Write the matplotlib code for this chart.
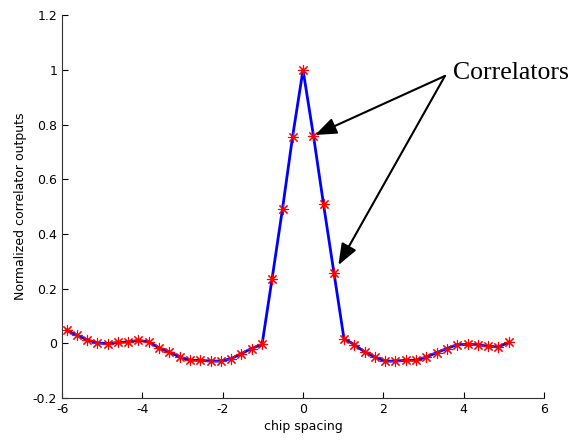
import matplotlib.pyplot as plt

# chip offsets (1/4-ish chip steps) and normalized correlator outputs
chip = [-5.89, -5.63, -5.38, -5.12, -4.86, -4.61, -4.35, -4.10, -3.84, -3.58,
        -3.33, -3.07, -2.82, -2.56, -2.30, -2.05, -1.79, -1.54, -1.28, -1.02,
        -0.77, -0.51, -0.26, 0.0, 0.26, 0.51, 0.77, 1.02, 1.28, 1.54,
        1.79, 2.05, 2.30, 2.56, 2.82, 3.07, 3.33, 3.58, 3.84, 4.10,
        4.35, 4.61, 4.86, 5.12]
corr = [0.048, 0.029, 0.013, 0.001, -0.001, 0.003, 0.005, 0.011, 0.005, -0.017,
        -0.032, -0.050, -0.062, -0.062, -0.065, -0.065, -0.056, -0.038, -0.019, -0.004,
        0.237, 0.493, 0.756, 1.0, 0.759, 0.509, 0.258, 0.017, -0.005, -0.032,
        -0.050, -0.065, -0.065, -0.062, -0.062, -0.050, -0.034, -0.019, -0.005, -0.004,
        -0.005, -0.011, -0.013, 0.003]

xticks = [-6, -4, -2, 0, 2, 4, 6]
yticks = [-0.2, 0, 0.2, 0.4, 0.6, 0.8, 1, 1.2]
ytick_labels = ['-0.2', '0', '0.2', '0.4', '0.6', '0.8', '1', '1.2']

fig = plt.figure(figsize=(5.75, 4.41), dpi=100)
ax = fig.add_axes([0.108, 0.0975, 0.838, 0.868])

ax.plot(chip, corr, color='blue', lw=2.0)
ax.plot(chip, corr, ls='none', marker=(8, 2, 0), ms=8, mew=0.8, color='red')

ax.set_xlim(-6, 6)
ax.set_ylim(-0.2, 1.2)
ax.set_xticks(xticks)
ax.set_xticklabels([str(t) for t in xticks])
ax.set_yticks(yticks)
ax.set_yticklabels(ytick_labels)
ax.tick_params(direction='in', length=4, labelsize=9, colors='black')
for side in ['top', 'right']:
    ax.spines[side].set_visible(False)
for side in ['left', 'bottom']:
    ax.spines[side].set_color('#333333')

ax.set_xlabel('chip spacing', fontsize=9, labelpad=3)
ax.set_ylabel('Normalized correlator outputs', fontsize=9, labelpad=4)

# annotation with two arrows
arrow = dict(arrowstyle='-|>,head_length=1.3,head_width=0.5', color='black',
             lw=1.5, shrinkA=0, shrinkB=0)
ax.annotate('', xy=(0.30, 0.762), xytext=(3.535, 0.978), arrowprops=arrow)
ax.annotate('', xy=(0.88, 0.286), xytext=(3.535, 0.978), arrowprops=arrow)
ax.text(3.73, 0.99, 'Correlators', family='Liberation Serif', fontsize=18.5,
        ha='left', va='center')

fig.savefig('out.png', dpi=100)
